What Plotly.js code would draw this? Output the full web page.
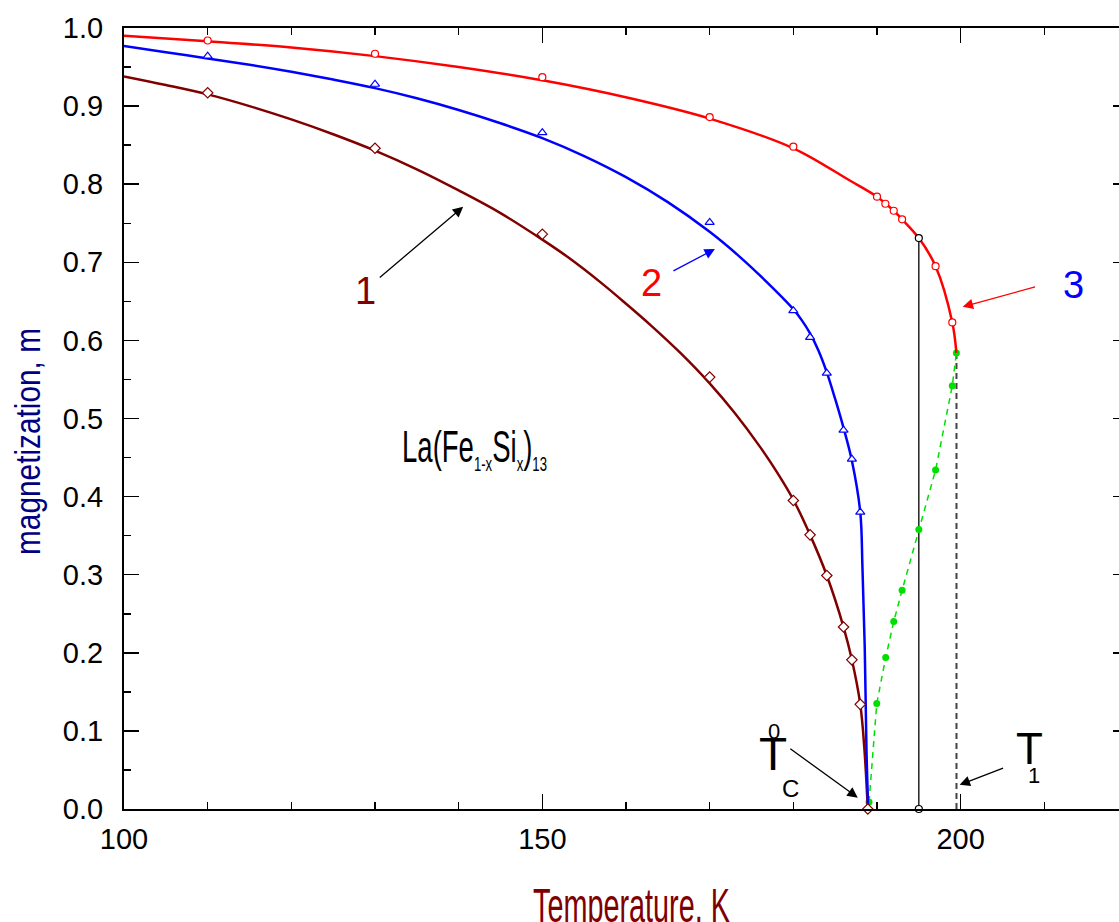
<!DOCTYPE html>
<html><head><meta charset="utf-8">
<script src="https://cdn.plot.ly/plotly-3.0.1.min.js"></script>
<style>html,body{margin:0;padding:0;overflow:hidden;background:#fff}#chart{width:1130px;height:922px}</style>
</head><body><div id="chart"></div>
<script>
// ---- data ----
// curve 1 (dark red, diamonds)
const line1T = [100,105,110,115,120,125,130,135,140,145,150,153,157,160,163,166.5,170,173,176,178,180,182,184,186,187,188,188.5,188.9];
const line1M = [0.938,0.927,0.915,0.900,0.883,0.864,0.843,0.819,0.792,0.763,0.729,0.707,0.674,0.647,0.619,0.584,0.545,0.507,0.464,0.432,0.396,0.351,0.299,0.233,0.191,0.134,0.076,0];
const pts1T = [110,130,150,170,180,182,184,186,187,188,188.9];
const pts1M = [0.917,0.846,0.736,0.553,0.395,0.351,0.299,0.233,0.191,0.134,0];
// curve 2 (blue, triangles)
const line2T = [100,105,110,115,120,125,130,135,140,145,150,155,160,165,170,173.6,176.8,180,181,182,183,184,185,186,187,188,188.26,188.54,188.74,188.95];
const line2M = [0.977,0.969,0.961,0.953,0.944,0.934,0.923,0.910,0.895,0.878,0.859,0.836,0.809,0.777,0.739,0.707,0.675,0.640,0.626,0.609,0.587,0.559,0.525,0.488,0.446,0.38,0.31,0.204,0.076,0];
const pts2T = [110,130,150,170,180,182,184,186,187,188];
const pts2M = [0.964,0.928,0.866,0.751,0.638,0.604,0.558,0.485,0.448,0.380];
// curve 3 (red, circles)
const line3T = [100,110,120,130,140,150,160.5,170,180,186.7,190,192,193,195,197,199,199.49];
const line3M = [0.990,0.983,0.975,0.964,0.950,0.933,0.910,0.884,0.846,0.805,0.784,0.766,0.755,0.731,0.695,0.623,0.584];
const pts3T = [110,130,150,170,180,190,191,192,193,197,199];
const pts3M = [0.984,0.967,0.937,0.886,0.848,0.784,0.775,0.766,0.755,0.695,0.623];
// green dashed branch
const greenT = [189.05,189.97,191.04,192,193,195,197,199,199.49];
const greenM = [0.009,0.135,0.194,0.240,0.280,0.358,0.434,0.542,0.584];
// vertical markers
const solidT = [195,195];
const solidM = [0,0.731];
const dashT = [199.5,199.5];
const dashM = [0,0.584];

const FONT = 'Liberation Sans, Arial, sans-serif';
const DARKRED = '#800000';

const traces = [
  {x:solidT,y:solidM,mode:'lines',line:{color:'black',width:1.3},hoverinfo:'skip'},
  {x:dashT,y:dashM,mode:'lines',line:{color:'#444',width:2,dash:'6px,4px'},hoverinfo:'skip'},
  {x:greenT,y:greenM,mode:'lines+markers',line:{color:'#00e000',width:1.5,dash:'6px,5px'},
   marker:{color:'#00e000',size:7,symbol:'circle'},cliponaxis:false},
  {x:line1T,y:line1M,mode:'lines',line:{color:DARKRED,width:2.5,shape:'spline',smoothing:1}},
  {x:line2T,y:line2M,mode:'lines',line:{color:'#0000ff',width:2.5,shape:'spline',smoothing:1}},
  {x:line3T,y:line3M,mode:'lines',line:{color:'#ff0000',width:2.5,shape:'spline',smoothing:1}},
  {x:pts1T,y:pts1M,mode:'markers',marker:{symbol:'diamond',size:8,color:'white',line:{color:DARKRED,width:1.2}},cliponaxis:false},
  {x:pts2T,y:pts2M,mode:'markers',marker:{symbol:'triangle-up',size:8,color:'white',line:{color:'#0000ff',width:1.2}},cliponaxis:false},
  {x:pts3T,y:pts3M,mode:'markers',marker:{symbol:'circle',size:7,color:'white',line:{color:'#ff0000',width:1.2}},cliponaxis:false},
  {x:solidT,y:solidM,mode:'markers',marker:{symbol:'circle',size:7,color:'white',line:{color:'black',width:1.2}},cliponaxis:false}
];

function arrow(x,y,ax,ay,color){
  return {x:x,y:y,ax:ax,ay:ay,xref:'x',yref:'y',axref:'x',ayref:'y',text:'',showarrow:true,
    arrowhead:2,arrowsize:1.6,arrowwidth:1.3,arrowcolor:color,standoff:0,startstandoff:0};
}
function label(x,y,text,size,color){
  return {x:x,y:y,xref:'x',yref:'y',text:text,showarrow:false,xanchor:'center',yanchor:'middle',
    font:{family:FONT,size:size,color:color}};
}

const annotations = [
  label(141.85,0.465,'La(Fe<sub><span style="font-size:21px">1-x</span></sub>Si<sub><span style="font-size:21px">x</span></sub>)<sub><span style="font-size:21px">13</span></sub>',44,'black'),
  label(128.84,0.663,'1',38,DARKRED),
  label(163.1,0.674,'2',38,'#ff0000'),
  label(213.46,0.671,'3',38,'#0000ff'),
  arrow(140.54,0.771,130.39,0.679,'black'),
  arrow(170.63,0.717,165.49,0.688,'#0000ff'),
  arrow(200.24,0.643,209.07,0.669,'#ff0000'),
  arrow(187.70,0.0145,179.46,0.0785,'black'),
  arrow(199.88,0.031,205.25,0.053,'black'),
  label(177.55,0.070,'T',46,'black'),
  label(179.7,0.026,'C',24,'black'),
  label(177.7,0.099,'0',22,'black'),
  label(208.18,0.0772,'T',44,'black'),
  label(208.72,0.0426,'1',22,'black')
];

const axisCommon = {
  showline:true,linewidth:2,linecolor:'black',mirror:'allticks',
  ticks:'inside',ticklen:15,tickwidth:1.5,tickcolor:'black',
  showgrid:false,zeroline:false,
  tickfont:{family:FONT,size:29,color:'black'}
};

const layout = {
  width:1130,height:922,
  margin:{l:124,r:2,t:28,b:113},
  paper_bgcolor:'white',plot_bgcolor:'white',
  showlegend:false,
  xaxis:Object.assign({},axisCommon,{range:[100,220],tick0:100,dtick:50,
    minor:{dtick:10,ticklen:7,tickwidth:1.5,ticks:'inside',tickcolor:'black'},
    ticklabelstandoff:3,
    title:{text:'Temperature, K',font:{family:FONT,size:48,color:DARKRED},standoff:30}}),
  yaxis:Object.assign({},axisCommon,{range:[0,1],tick0:0,dtick:0.1,tickformat:'.1f',
    minor:{dtick:0.05,ticklen:7,tickwidth:1.5,ticks:'inside',tickcolor:'black'},
    ticklabelstandoff:13,
    title:{text:'magnetization, m',font:{family:FONT,size:35,color:'#000080'},standoff:20}}),
  annotations:annotations
};

// compress text horizontally to mimic the condensed lettering of the original
function fitH(el, left, width, top){
  const b = el.getBBox();
  const m = el.parentNode.getScreenCTM();
  const sx = width / b.width;
  el.setAttribute('transform',
    `translate(${left-m.e},${top-m.f}) scale(${sx},1) translate(${-b.x},${-b.y})`);
}
function fitV(el, cx, cy, length){
  const b = el.getBBox();
  const m = el.parentNode.getScreenCTM();
  const sx = length / b.width;
  const bcx = b.x + b.width/2, bcy = b.y + b.height/2;
  el.setAttribute('transform',
    `translate(${cx-m.e},${cy-m.f}) rotate(-90) scale(${sx},1) translate(${-bcx},${-bcy})`);
}

Plotly.newPlot('chart',traces,layout,{staticPlot:true}).then(function(){
  const xt = document.querySelector('.xtitle');
  if (xt) fitH(xt, 533, 197, 922 - 0.905*48);
  const yt = document.querySelector('.ytitle');
  if (yt) fitV(yt, 40 - 0.3465*35, 441.5, 227);
  const ann = document.querySelectorAll('g.annotation');
  if (ann[0]) {
    const t = ann[0].querySelector('text');
    if (t) fitH(t, 402, 145, 461.7 - 0.905*44);
  }
});
</script>
</body></html>
